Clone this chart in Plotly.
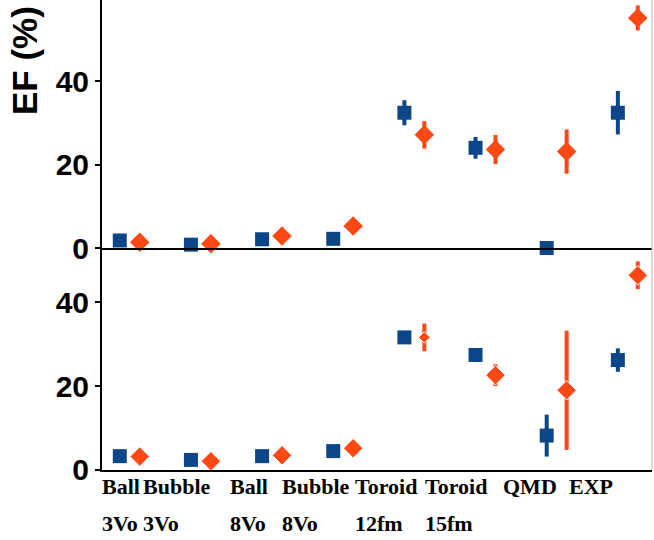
import numpy as np
import plotly.graph_objects as go

categories = ["Ball", "Bubble", "Ball", "Bubble", "Toroid", "Toroid", "QMD", "EXP"]
sublabels = ["3Vo", "3Vo", "8Vo", "8Vo", "12fm", "15fm", "", ""]

# top panel
top_blue = [1.8, 0.8, 2.1, 2.2, 32.4, 24.0, 0.0, 32.4]
top_blue_err = [0, 0, 0, 0, 3.0, 2.6, 0, 5.2]
top_orange = [1.4, 1.0, 2.9, 5.3, 27.1, 23.6, 23.1, 55.1]
top_orange_err = [0, 0, 0, 0, 3.3, 3.5, 5.3, 3.0]

# bottom panel
bot_blue = [3.3, 2.4, 3.3, 4.5, 31.6, 27.4, 8.2, 26.2]
bot_blue_err = [0, 0, 0, 0, 0, 0, 5.0, 2.8]
bot_orange = [3.2, 2.1, 3.5, 5.2, 31.6, 22.6, 19.0, 46.4]
bot_orange_err = [0, 0, 0, 0, 3.3, 2.6, 14.2, 3.3]

yticks = [0, 20, 40]

BLUE = "#0B4688"
ORANGE = "#FF4814"

idx = np.arange(len(categories))
off = 0.14

fig = go.Figure()

def add_pair(yb, eb, yo, eo, xa, ya, osizes=None):
    fig.add_trace(go.Scatter(
        x=idx - off, y=yb, mode="markers", xaxis=xa, yaxis=ya,
        marker=dict(symbol="square", size=14, color=BLUE, opacity=1),
        error_y=dict(type="data", array=eb, visible=True, thickness=4, width=0, color=BLUE),
        cliponaxis=False, showlegend=False))
    fig.add_trace(go.Scatter(
        x=idx + off, y=yo, mode="markers", xaxis=xa, yaxis=ya,
        marker=dict(symbol="diamond", size=osizes if osizes else 15, color=ORANGE, opacity=1),
        error_y=dict(type="data", array=eo, visible=True, thickness=4, width=0, color=ORANGE),
        cliponaxis=False, showlegend=False))

add_pair(top_blue, top_blue_err, top_orange, top_orange_err, "x", "y")
add_pair(bot_blue, bot_blue_err, bot_orange, bot_orange_err, "x2", "y2",
         osizes=[15, 15, 15, 15, 9, 15, 15, 15])

split = 0.4723
tickfont = dict(family="Liberation Sans, Arial", size=30, color="black", weight="bold")

xcommon = dict(range=[-0.39, 7.34], showgrid=False, zeroline=False, showticklabels=False,
               showline=True, linecolor="black", linewidth=2, ticks="")
ycommon = dict(showgrid=False, zeroline=False, showline=True, linecolor="black", linewidth=2,
               ticks="outside", ticklen=5, tickwidth=2, tickcolor="black",
               tickvals=yticks, tickfont=tickfont)

fig.update_layout(
    width=654, height=540,
    margin=dict(l=102, r=2, t=0, b=70),
    paper_bgcolor="white", plot_bgcolor="white",
    xaxis=dict(domain=[0, 1], anchor="y", **xcommon),
    yaxis=dict(domain=[split, 1], range=[0, 59.4], anchor="x", **ycommon),
    xaxis2=dict(domain=[0, 1], anchor="y2", **xcommon),
    yaxis2=dict(domain=[0, split], range=[0, 52.9], anchor="x2", **ycommon),
)

# right border
fig.add_shape(type="line", xref="paper", yref="paper", x0=1, x1=1, y0=0, y1=1,
              line=dict(color="#b0b0b0", width=1))

# y title
fig.add_annotation(text="EF (%)", xref="paper", yref="paper", x=0, y=1, xanchor="center",
                   yanchor="middle", xshift=-78, yshift=-61, textangle=-90, showarrow=False,
                   font=dict(family="Liberation Sans, Arial", size=35, color="black", weight="bold"))

# x labels (left aligned)
label_shift = [-0.385, -0.81, -0.59, -0.86, -0.84, -0.85, -0.76, -0.83]
lab_font = dict(family="Liberation Serif, Times New Roman", size=22, color="black", weight="bold")
for i, (c, s) in enumerate(zip(categories, sublabels)):
    fig.add_annotation(text=c, xref="x2", yref="paper", x=i + label_shift[i], y=0,
                       xanchor="left", yanchor="middle", yshift=-16, xshift=-2, showarrow=False, font=lab_font)
    if s:
        fig.add_annotation(text=s, xref="x2", yref="paper", x=i + label_shift[i], y=0,
                           xanchor="left", yanchor="middle", yshift=-53, xshift=-2, showarrow=False, font=lab_font)

fig.write_html("out.html")
